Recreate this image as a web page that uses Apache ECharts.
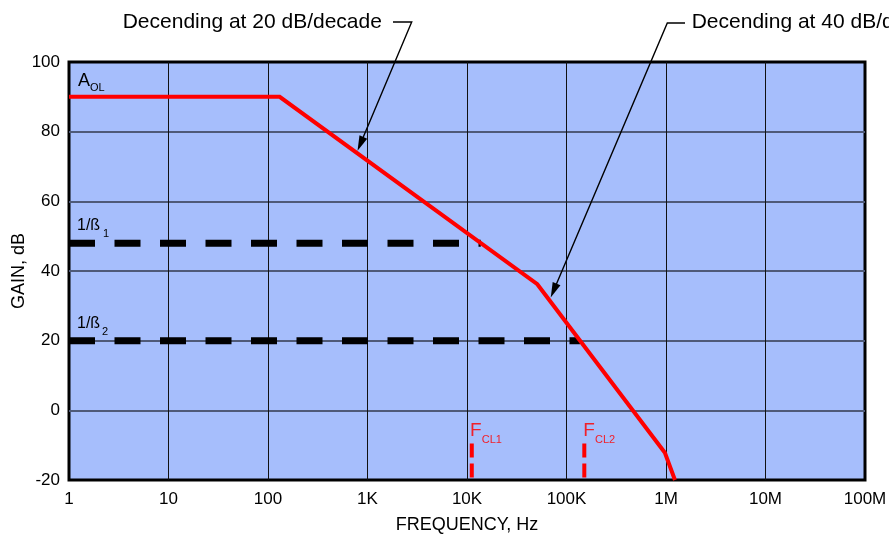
<!DOCTYPE html>
<html><head><meta charset="utf-8">
<script src="https://cdn.jsdelivr.net/npm/echarts@6/dist/echarts.min.js"></script>
<style>html,body{margin:0;padding:0;background:#fff}#c{width:889px;height:536px}</style>
</head><body><div id="c"></div>
<script>
// ---- data ----
const xTickLabels = ['1','10','100','1K','10K','100K','1M','10M','100M'];
const yMin = -20, yMax = 100, yStep = 20;
const aolFreq = [1, 131, 50900, 975000, 1230000];
const aolGain = [90, 90, 36.2, -12.2, -20];
const beta1Freq = [1, 13760];
const beta1Gain = [48, 48];
const beta2Freq = [1, 136500];
const beta2Gain = [20, 20];
const fcl1Freq = [11170, 11170];
const fcl1Gain = [-9.5, -20];
const fcl2Freq = [151000, 151000];
const fcl2Gain = [-9.5, -20];
const arrow1Target = [794, 74.5];
const arrow2Target = [69400, 32.4];
const annot1 = 'Decending at 20 dB/decade';
const annot2 = 'Decending at 40 dB/decade';

const zip = (a, b) => a.map((v, i) => [v, b[i]]);
const FONT = '"Liberation Sans", Arial, Helvetica, sans-serif';
const RED = '#ff0000';
const LRED = '#f0202a';

const chart = echarts.init(document.getElementById('c'), null, {renderer: 'canvas'});
chart.setOption({
  animation: false,
  grid: {left: 69, right: 24, top: 62, bottom: 56, show: true, containLabel: false,
         outerBoundsMode: 'none',
         backgroundColor: '#a6befc', borderColor: '#000', borderWidth: 3},
  xAxis: {
    type: 'log', logBase: 10, min: 1, max: 1e8,
    axisLine: {show: false}, axisTick: {show: false},
    axisLabel: {fontSize: 17, color: '#000', fontFamily: FONT, margin: 11,
      formatter: v => xTickLabels[Math.round(Math.log10(v))]},
    splitLine: {show: true, showMinLine: false, showMaxLine: false,
      lineStyle: {color: '#111', width: 1}},
    minorSplitLine: {show: false},
    name: 'FREQUENCY, Hz', nameLocation: 'middle', nameGap: 36,
    nameTextStyle: {fontSize: 18, color: '#000', fontFamily: FONT}
  },
  yAxis: {
    type: 'value', min: yMin, max: yMax, interval: yStep,
    axisLine: {show: false}, axisTick: {show: false},
    axisLabel: {fontSize: 17, color: '#000', fontFamily: FONT, margin: 9},
    splitLine: {show: true, showMinLine: false, showMaxLine: false,
      lineStyle: {color: '#4f5a78', width: 2}},
    name: 'GAIN, dB', nameLocation: 'middle', nameGap: 41, nameMoveOverlap: false,
    nameTextStyle: {fontSize: 18, color: '#000', fontFamily: FONT}
  },
  series: [
    {type: 'line', data: zip(beta1Freq, beta1Gain), symbol: 'none', silent: true, z: 2,
     lineStyle: {color: '#000', width: 7, type: [26, 19.5], cap: 'butt'}},
    {type: 'line', data: zip(beta2Freq, beta2Gain), symbol: 'none', silent: true, z: 2,
     lineStyle: {color: '#000', width: 7, type: [26, 19.5], cap: 'butt'}},
    {type: 'line', data: zip(fcl1Freq, fcl1Gain), symbol: 'none', silent: true, z: 3,
     lineStyle: {color: RED, width: 4, type: [14, 6], cap: 'butt'}},
    {type: 'line', data: zip(fcl2Freq, fcl2Gain), symbol: 'none', silent: true, z: 3,
     lineStyle: {color: RED, width: 4, type: [14, 6], cap: 'butt'}},
    {type: 'line', data: zip(aolFreq, aolGain), symbol: 'none', silent: true, z: 4,
     lineStyle: {color: RED, width: 4, join: 'miter'}}
  ]
});

const P = (f, g) => chart.convertToPixel({gridIndex: 0}, [f, g]);
function txt(x, y, text, size, color, extra) {
  return Object.assign({type: 'text', x: x, y: y, z: 100,
    style: {text: text, fill: color, fontSize: size, fontFamily: FONT,
      align: 'left', verticalAlign: 'middle', textAlign: 'left', textVerticalAlign: 'middle'}}, extra || {});
}
function arrow(start, corner, tip) {
  const dx = tip[0] - corner[0], dy = tip[1] - corner[1];
  const L = Math.hypot(dx, dy), ux = dx / L, uy = dy / L;
  const bx = tip[0] - ux * 15, by = tip[1] - uy * 15;
  const nx = -uy * 4.2, ny = ux * 4.2;
  return [
    {type: 'polyline', z: 100, shape: {points: [start, corner, [bx + ux * 2, by + uy * 2]]},
     style: {stroke: '#000', lineWidth: 1.4, fill: null}},
    {type: 'polygon', z: 100, shape: {points: [tip, [bx + nx, by + ny], [bx - nx, by - ny]]},
     style: {fill: '#000', stroke: null}}
  ];
}
const g = [];
const t1 = P(arrow1Target[0], arrow1Target[1]);
const t2 = P(arrow2Target[0], arrow2Target[1]);
g.push(...arrow([393, 22], [411.7, 22], t1));
g.push(...arrow([685, 23], [667.3, 23], t2));
g.push(txt(122.7, 22, annot1, 21, '#000'));
g.push(txt(691.7, 22, annot2, 21, '#000'));
const a = P(aolFreq[0], aolGain[0]);
g.push(txt(a[0] + 9, a[1] - 16, 'A', 18, '#000'));
g.push(txt(a[0] + 21, a[1] - 8.5, 'OL', 11, '#000'));
const b1 = P(beta1Freq[0], beta1Gain[0]);
g.push(txt(b1[0] + 8, b1[1] - 17.5, '1/ß', 16, '#000'));
g.push(txt(b1[0] + 34, b1[1] - 9, '1', 11, '#000'));
const b2 = P(beta2Freq[0], beta2Gain[0]);
g.push(txt(b2[0] + 8, b2[1] - 17, '1/ß', 16, '#000'));
g.push(txt(b2[0] + 33, b2[1] - 9, '2', 11, '#000'));
const f1 = P(fcl1Freq[0], fcl1Gain[0]);
g.push(txt(f1[0] - 1.7, f1[1] - 12.5, 'F', 19, LRED));
g.push(txt(f1[0] + 10, f1[1] - 3, 'CL1', 11, LRED));
const f2 = P(fcl2Freq[0], fcl2Gain[0]);
g.push(txt(f2[0] - 1, f2[1] - 12.5, 'F', 19, LRED));
g.push(txt(f2[0] + 10.7, f2[1] - 3, 'CL2', 11, LRED));
chart.setOption({graphic: {elements: g}});
</script>
</body></html>
